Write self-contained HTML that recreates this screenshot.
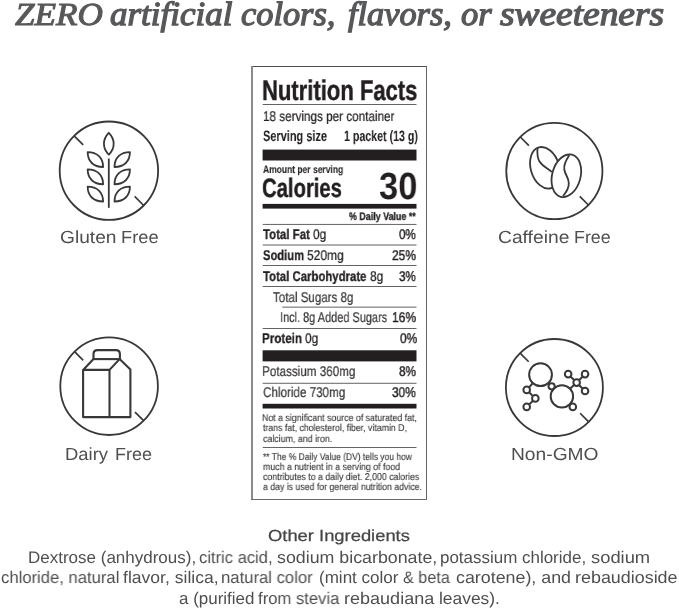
<!DOCTYPE html>
<html><head><meta charset="utf-8"><title>Nutrition</title>
<style>
html,body{margin:0;padding:0;background:#fff;}
body{width:679px;height:610px;position:relative;overflow:hidden;font-family:"Liberation Sans",sans-serif;}
.t{position:absolute;white-space:nowrap;transform-origin:0 0;display:block;will-change:transform;text-rendering:geometricPrecision;}
svg{position:absolute;left:0;top:0;overflow:visible;}
</style></head><body>
<svg width="679" height="610" viewBox="0 0 679 610">
<rect x="251" y="66" width="176" height="1" fill="#505052"/>
<rect x="251" y="66" width="2" height="434" fill="#8b8b8d"/>
<rect x="426" y="66" width="1" height="434" fill="#666668"/>
<rect x="251" y="499" width="176" height="1" fill="#6a6a6c"/>
<g fill="#231f20">
<rect x="262.6" y="149.6" width="153.9" height="10.9"/>
<rect x="262.6" y="203.9" width="153.9" height="4.7"/>
<rect x="262.6" y="350.3" width="153.9" height="11.1"/>
<rect x="262.6" y="403.8" width="153.9" height="4.7"/>
<rect x="262.7" y="104.00" width="153.8" height="0.7"/>
<rect x="262.7" y="223.95" width="153.8" height="0.7"/>
<rect x="262.7" y="244.65" width="153.8" height="0.7"/>
<rect x="262.7" y="265.25" width="153.8" height="0.7"/>
<rect x="262.7" y="286.15" width="153.8" height="0.7"/>
<rect x="282.3" y="306.75" width="134.2" height="0.7"/>
<rect x="262.7" y="328.05" width="153.8" height="0.7"/>
<rect x="262.7" y="382.85" width="153.8" height="0.7"/>
<rect x="262.7" y="447.05" width="153.8" height="0.7"/>
</g>
</svg>
<svg width="679" height="610" viewBox="0 0 679 610"><g stroke="#38383a" stroke-linecap="butt" fill="none">
<circle cx="108.90" cy="170.70" r="49.20" stroke-width="1.8" fill="none"/>
<line x1="74.11" y1="135.91" x2="83.16" y2="144.96" stroke-width="1.7"/>
<line x1="134.64" y1="196.44" x2="143.69" y2="205.49" stroke-width="1.7"/>
<line x1="108.80" y1="158.50" x2="108.80" y2="207.80" stroke-width="1.8"/>
<path d="M108.8,132.8 C115.3,139.3 115.3,148.3 108.8,154.6 C102.3,148.3 102.3,139.3 108.8,132.8Z" stroke-width="1.8" fill="none" stroke-linejoin="round"/>
<path d="M87.65,152.10 C97.23,152.10 103.10,157.76 103.10,167.00 C93.52,167.00 87.65,161.34 87.65,152.10Z" stroke-width="1.8" fill="none" stroke-linejoin="round"/>
<path d="M129.95,152.10 C120.37,152.10 114.50,157.76 114.50,167.00 C124.08,167.00 129.95,161.34 129.95,152.10Z" stroke-width="1.8" fill="none" stroke-linejoin="round"/>
<path d="M87.65,169.35 C97.23,169.35 103.10,175.01 103.10,184.25 C93.52,184.25 87.65,178.59 87.65,169.35Z" stroke-width="1.8" fill="none" stroke-linejoin="round"/>
<path d="M129.95,169.35 C120.37,169.35 114.50,175.01 114.50,184.25 C124.08,184.25 129.95,178.59 129.95,169.35Z" stroke-width="1.8" fill="none" stroke-linejoin="round"/>
<path d="M87.65,186.60 C97.23,186.60 103.10,192.26 103.10,201.50 C93.52,201.50 87.65,195.84 87.65,186.60Z" stroke-width="1.8" fill="none" stroke-linejoin="round"/>
<path d="M129.95,186.60 C120.37,186.60 114.50,192.26 114.50,201.50 C124.08,201.50 129.95,195.84 129.95,186.60Z" stroke-width="1.8" fill="none" stroke-linejoin="round"/>
<circle cx="554.35" cy="171.00" r="48.10" stroke-width="1.8" fill="none"/>
<line x1="520.34" y1="136.99" x2="528.89" y2="145.54" stroke-width="1.7"/>
<line x1="579.81" y1="196.46" x2="588.36" y2="205.01" stroke-width="1.7"/>
<ellipse cx="545.0" cy="167.8" rx="14.2" ry="21.3" transform="rotate(-17 545.0 167.8)" stroke-width="1.8" fill="none"/>
<path d="M537.5,148.0 C537.2,152 536.8,157 539.5,161.5 C542.5,166.5 548,168 551.8,172" stroke-width="1.8" fill="none"/>
<ellipse cx="566.35" cy="175.7" rx="14.2" ry="21.8" transform="rotate(15 566.35 175.7)" stroke-width="1.8" fill="#fff"/>
<path d="M569.3,155.2 C566,160 563.6,165 564.3,169.5 C565,174.5 568.6,177.5 568.8,183 C569,188 566.5,192 563.0,196" stroke-width="1.8" fill="none"/>
<circle cx="109.10" cy="386.20" r="48.80" stroke-width="1.8" fill="none"/>
<line x1="74.59" y1="351.69" x2="83.22" y2="360.32" stroke-width="1.7"/>
<line x1="134.98" y1="412.08" x2="143.61" y2="420.71" stroke-width="1.7"/>
<path d="M93.5,359.1 V354.1 Q93.5,350.1 97.5,350.1 H115.9 Q119.9,350.1 119.9,354.1 V359.1" stroke-width="2.1" fill="none"/>
<path d="M93.5,359.1 H119.6" stroke-width="2.1" fill="none"/>
<path d="M93.5,359.1 L83.1,369.9 H109.5 L119.6,359.1 L130.4,369.6 V417.1 H83.1 V369.9" stroke-width="2.1" fill="none" stroke-linejoin="round"/>
<path d="M109.5,369.9 V417.1" stroke-width="2.1" fill="none"/>
<circle cx="554.40" cy="387.50" r="48.50" stroke-width="1.8" fill="none"/>
<line x1="520.11" y1="353.21" x2="528.66" y2="361.76" stroke-width="1.7"/>
<line x1="580.14" y1="413.24" x2="588.69" y2="421.79" stroke-width="1.7"/>
<circle cx="540.54" cy="374.70" r="11.40" stroke-width="2.0" fill="none"/>
<circle cx="561.90" cy="396.40" r="11.20" stroke-width="2.0" fill="none"/>
<circle cx="551.60" cy="386.30" r="3.10" stroke-width="2.0" fill="#fff"/>
<circle cx="572.80" cy="406.90" r="3.30" stroke-width="2.0" fill="#fff"/>
<circle cx="526.70" cy="389.90" r="3.30" stroke-width="2.0" fill="none"/>
<circle cx="535.35" cy="398.40" r="3.30" stroke-width="2.0" fill="none"/>
<circle cx="526.70" cy="406.90" r="3.30" stroke-width="2.0" fill="none"/>
<circle cx="576.65" cy="382.60" r="3.30" stroke-width="2.0" fill="none"/>
<circle cx="568.15" cy="374.10" r="3.30" stroke-width="2.0" fill="none"/>
<circle cx="585.05" cy="374.10" r="3.30" stroke-width="2.0" fill="none"/>
<circle cx="585.05" cy="391.00" r="3.30" stroke-width="2.0" fill="none"/>
<line x1="532.86" y1="383.13" x2="528.92" y2="387.46" stroke-width="2.0"/>
<line x1="529.05" y1="392.21" x2="533.00" y2="396.09" stroke-width="2.0"/>
<line x1="533.00" y1="400.71" x2="529.05" y2="404.59" stroke-width="2.0"/>
<line x1="574.32" y1="380.27" x2="570.48" y2="376.43" stroke-width="2.0"/>
<line x1="578.97" y1="380.25" x2="582.73" y2="376.45" stroke-width="2.0"/>
<line x1="578.98" y1="384.93" x2="582.72" y2="388.67" stroke-width="2.0"/>
<line x1="574.24" y1="384.85" x2="570.08" y2="388.75" stroke-width="2.0"/>
</g></svg>

<span class="t" style="left:14.77px;top:-2.00px;font:italic 400 32.2px/1 'Liberation Serif', serif;color:#57585a;-webkit-text-stroke:1.0px #57585a;transform:scale(1.0932,1)">ZERO</span>
<span class="t" style="left:110.34px;top:-2.00px;font:italic 400 33.6px/1 'Liberation Serif', serif;color:#57585a;-webkit-text-stroke:1.3px #57585a;transform:scale(1.0414,1)">artificial</span>
<span class="t" style="left:241.49px;top:-2.00px;font:italic 400 33.6px/1 'Liberation Serif', serif;color:#57585a;-webkit-text-stroke:1.3px #57585a;transform:scale(1.0227,1)">colors,</span>
<span class="t" style="left:347.96px;top:-2.00px;font:italic 400 33.6px/1 'Liberation Serif', serif;color:#57585a;-webkit-text-stroke:1.3px #57585a;transform:scale(1.0219,1)">flavors,</span>
<span class="t" style="left:461.34px;top:-2.00px;font:italic 400 33.6px/1 'Liberation Serif', serif;color:#57585a;-webkit-text-stroke:1.3px #57585a;transform:scale(1.0295,1)">or</span>
<span class="t" style="left:500.08px;top:-2.00px;font:italic 400 33.6px/1 'Liberation Serif', serif;color:#57585a;-webkit-text-stroke:1.3px #57585a;transform:scale(1.1131,1)">sweeteners</span>
<span class="t" style="left:262.34px;top:77.00px;font:normal 700 28.4px/1 'Liberation Sans', sans-serif;color:#231f20;-webkit-text-stroke:0.45px #231f20;transform:scale(0.7757,1)">Nutrition Facts</span>
<span class="t" style="left:262.57px;top:109.00px;font:normal 400 14.1px/1 'Liberation Sans', sans-serif;color:#231f20;-webkit-text-stroke:0.22px #231f20;transform:scale(0.8305,1)">18 servings per container</span>
<span class="t" style="left:262.73px;top:129.00px;font:normal 700 15.0px/1 'Liberation Sans', sans-serif;color:#231f20;-webkit-text-stroke:0.05px #231f20;transform:scale(0.7306,1)">Serving size</span>
<span class="t" style="left:343.79px;top:129.00px;font:normal 700 15.0px/1 'Liberation Sans', sans-serif;color:#231f20;-webkit-text-stroke:0.05px #231f20;transform:scale(0.7093,1)">1 packet (13 g)</span>
<span class="t" style="left:262.90px;top:165.00px;font:normal 700 10.7px/1 'Liberation Sans', sans-serif;color:#231f20;-webkit-text-stroke:0.08px #231f20;transform:scale(0.7940,1)">Amount per serving</span>
<span class="t" style="left:262.34px;top:175.00px;font:normal 700 26.6px/1 'Liberation Sans', sans-serif;color:#231f20;-webkit-text-stroke:0.4px #231f20;transform:scale(0.7612,1)">Calories</span>
<span class="t" style="left:379.39px;top:168.00px;font:normal 700 38px/1 'Liberation Sans', sans-serif;color:#231f20;transform:scale(0.9057,1)">30</span>
<span class="t" style="left:349.10px;top:212.00px;font:normal 700 11.0px/1 'Liberation Sans', sans-serif;color:#231f20;-webkit-text-stroke:0.3px #231f20;transform:scale(0.8085,1)">% Daily Value **</span>
<span class="t" style="left:263.10px;top:227.00px;font:normal 700 14.1px/1 'Liberation Sans', sans-serif;color:#231f20;-webkit-text-stroke:0.3px #231f20;transform:scale(0.8121,1)">Total Fat</span>
<span class="t" style="left:313.18px;top:227.00px;font:normal 400 14.1px/1 'Liberation Sans', sans-serif;color:#231f20;-webkit-text-stroke:0.22px #231f20;transform:scale(0.8500,1)">0g</span>
<span class="t" style="left:399.39px;top:227.00px;font:normal 400 14.1px/1 'Liberation Sans', sans-serif;color:#231f20;-webkit-text-stroke:0.42px #231f20;transform:scale(0.8253,1)">0%</span>
<span class="t" style="left:262.90px;top:248.00px;font:normal 700 14.1px/1 'Liberation Sans', sans-serif;color:#231f20;-webkit-text-stroke:0.3px #231f20;transform:scale(0.7941,1)">Sodium</span>
<span class="t" style="left:306.57px;top:248.00px;font:normal 400 14.1px/1 'Liberation Sans', sans-serif;color:#231f20;-webkit-text-stroke:0.22px #231f20;transform:scale(0.8527,1)">520mg</span>
<span class="t" style="left:392.18px;top:248.00px;font:normal 400 14.1px/1 'Liberation Sans', sans-serif;color:#231f20;-webkit-text-stroke:0.42px #231f20;transform:scale(0.8473,1)">25%</span>
<span class="t" style="left:263.10px;top:269.00px;font:normal 700 14.1px/1 'Liberation Sans', sans-serif;color:#231f20;-webkit-text-stroke:0.3px #231f20;transform:scale(0.8070,1)">Total Carbohydrate</span>
<span class="t" style="left:370.07px;top:269.00px;font:normal 400 14.1px/1 'Liberation Sans', sans-serif;color:#231f20;-webkit-text-stroke:0.22px #231f20;transform:scale(0.8500,1)">8g</span>
<span class="t" style="left:399.39px;top:269.00px;font:normal 400 14.1px/1 'Liberation Sans', sans-serif;color:#231f20;-webkit-text-stroke:0.42px #231f20;transform:scale(0.8253,1)">3%</span>
<span class="t" style="left:273.09px;top:290.00px;font:normal 400 14.1px/1 'Liberation Sans', sans-serif;color:#3a3738;-webkit-text-stroke:0.22px #3a3738;transform:scale(0.8216,1)">Total Sugars 8g</span>
<span class="t" style="left:279.73px;top:310.00px;font:normal 400 14.1px/1 'Liberation Sans', sans-serif;color:#3a3738;-webkit-text-stroke:0.22px #3a3738;transform:scale(0.7772,1)">Incl. 8g Added Sugars</span>
<span class="t" style="left:391.96px;top:310.00px;font:normal 400 14.1px/1 'Liberation Sans', sans-serif;color:#231f20;-webkit-text-stroke:0.42px #231f20;transform:scale(0.8550,1)">16%</span>
<span class="t" style="left:262.48px;top:331.00px;font:normal 700 14.1px/1 'Liberation Sans', sans-serif;color:#231f20;-webkit-text-stroke:0.3px #231f20;transform:scale(0.8234,1)">Protein</span>
<span class="t" style="left:305.27px;top:331.00px;font:normal 400 14.1px/1 'Liberation Sans', sans-serif;color:#231f20;-webkit-text-stroke:0.22px #231f20;transform:scale(0.8500,1)">0g</span>
<span class="t" style="left:399.99px;top:331.00px;font:normal 400 14.1px/1 'Liberation Sans', sans-serif;color:#231f20;-webkit-text-stroke:0.42px #231f20;transform:scale(0.8506,1)">0%</span>
<span class="t" style="left:262.27px;top:364.00px;font:normal 400 14.1px/1 'Liberation Sans', sans-serif;color:#3a3738;-webkit-text-stroke:0.22px #3a3738;transform:scale(0.8279,1)">Potassium 360mg</span>
<span class="t" style="left:399.18px;top:364.00px;font:normal 400 14.1px/1 'Liberation Sans', sans-serif;color:#231f20;-webkit-text-stroke:0.42px #231f20;transform:scale(0.8359,1)">8%</span>
<span class="t" style="left:262.69px;top:385.00px;font:normal 400 14.1px/1 'Liberation Sans', sans-serif;color:#3a3738;-webkit-text-stroke:0.22px #3a3738;transform:scale(0.8265,1)">Chloride 730mg</span>
<span class="t" style="left:392.39px;top:385.00px;font:normal 400 14.1px/1 'Liberation Sans', sans-serif;color:#231f20;-webkit-text-stroke:0.42px #231f20;transform:scale(0.8396,1)">30%</span>
<span class="t" style="left:262.43px;top:414.00px;font:normal 400 9.9px/1 'Liberation Sans', sans-serif;color:#3a3738;-webkit-text-stroke:0.12px #3a3738;transform:scale(0.8904,1)">Not a significant source of saturated fat,</span>
<span class="t" style="left:263.10px;top:424.00px;font:normal 400 9.9px/1 'Liberation Sans', sans-serif;color:#3a3738;-webkit-text-stroke:0.12px #3a3738;transform:scale(0.8859,1)">trans fat, cholesterol, fiber, vitamin D,</span>
<span class="t" style="left:262.88px;top:435.00px;font:normal 400 9.9px/1 'Liberation Sans', sans-serif;color:#3a3738;-webkit-text-stroke:0.12px #3a3738;transform:scale(0.8944,1)">calcium, and iron.</span>
<span class="t" style="left:263.10px;top:453.00px;font:normal 400 9.9px/1 'Liberation Sans', sans-serif;color:#3a3738;-webkit-text-stroke:0.12px #3a3738;transform:scale(0.8576,1)">** The % Daily Value (DV) tells you how</span>
<span class="t" style="left:262.66px;top:463.00px;font:normal 400 9.9px/1 'Liberation Sans', sans-serif;color:#3a3738;-webkit-text-stroke:0.12px #3a3738;transform:scale(0.8887,1)">much a nutrient in a serving of food</span>
<span class="t" style="left:262.88px;top:473.00px;font:normal 400 9.9px/1 'Liberation Sans', sans-serif;color:#3a3738;-webkit-text-stroke:0.12px #3a3738;transform:scale(0.8871,1)">contributes to a daily diet. 2,000 calories</span>
<span class="t" style="left:262.88px;top:483.00px;font:normal 400 9.9px/1 'Liberation Sans', sans-serif;color:#3a3738;-webkit-text-stroke:0.12px #3a3738;transform:scale(0.8827,1)">a day is used for general nutrition advice.</span>
<span class="t" style="left:60.41px;top:229.00px;font:normal 400 17.5px/1 'Liberation Sans', sans-serif;color:#4f4f51;transform:scale(1.0949,1)">Gluten</span>
<span class="t" style="left:120.64px;top:229.00px;font:normal 400 17.5px/1 'Liberation Sans', sans-serif;color:#4f4f51;transform:scale(1.0430,1)">Free</span>
<span class="t" style="left:498.10px;top:229.00px;font:normal 400 17.5px/1 'Liberation Sans', sans-serif;color:#4f4f51;transform:scale(1.1000,1)">Caffeine</span>
<span class="t" style="left:574.27px;top:229.00px;font:normal 400 17.5px/1 'Liberation Sans', sans-serif;color:#4f4f51;transform:scale(1.0193,1)">Free</span>
<span class="t" style="left:65.12px;top:446.00px;font:normal 400 17.5px/1 'Liberation Sans', sans-serif;color:#4f4f51;transform:scale(1.0548,1)">Dairy</span>
<span class="t" style="left:114.66px;top:446.00px;font:normal 400 17.5px/1 'Liberation Sans', sans-serif;color:#4f4f51;transform:scale(1.0281,1)">Free</span>
<span class="t" style="left:510.50px;top:446.00px;font:normal 400 17.5px/1 'Liberation Sans', sans-serif;color:#4f4f51;transform:scale(1.0974,1)">Non-GMO</span>
<span class="t" style="left:268.14px;top:529.00px;font:normal 400 16.0px/1 'Liberation Sans', sans-serif;color:#454547;-webkit-text-stroke:0.25px #454547;transform:scale(1.1478,1)">Other Ingredients</span>
<span class="t" style="left:28.48px;top:550.00px;font:normal 400 16.8px/1 'Liberation Sans', sans-serif;color:#4f4f51;transform:scale(1.0129,1)">Dextrose (anhydrous),</span>
<span class="t" style="left:199.36px;top:550.00px;font:normal 400 16.8px/1 'Liberation Sans', sans-serif;color:#4f4f51;transform:scale(0.9869,1)">citric acid,</span>
<span class="t" style="left:277.17px;top:550.00px;font:normal 400 16.8px/1 'Liberation Sans', sans-serif;color:#4f4f51;transform:scale(1.0604,1)">sodium bicarbonate,</span>
<span class="t" style="left:440.39px;top:550.00px;font:normal 400 16.8px/1 'Liberation Sans', sans-serif;color:#4f4f51;transform:scale(1.0106,1)">potassium chloride,</span>
<span class="t" style="left:591.45px;top:550.00px;font:normal 400 16.8px/1 'Liberation Sans', sans-serif;color:#4f4f51;transform:scale(1.0933,1)">sodium</span>
<span class="t" style="left:0.51px;top:570.00px;font:normal 400 16.8px/1 'Liberation Sans', sans-serif;color:#4f4f51;transform:scale(0.9911,1)">chloride, natural</span>
<span class="t" style="left:122.94px;top:570.00px;font:normal 400 16.8px/1 'Liberation Sans', sans-serif;color:#4f4f51;transform:scale(1.0462,1)">flavor, silica,</span>
<span class="t" style="left:221.36px;top:570.00px;font:normal 400 16.8px/1 'Liberation Sans', sans-serif;color:#4f4f51;transform:scale(0.9928,1)">natural color</span>
<span class="t" style="left:318.99px;top:570.00px;font:normal 400 16.8px/1 'Liberation Sans', sans-serif;color:#4f4f51;transform:scale(1.0143,1)">(mint color</span>
<span class="t" style="left:403.42px;top:570.00px;font:normal 400 16.8px/1 'Liberation Sans', sans-serif;color:#4f4f51;transform:scale(0.9646,1)">&amp; beta</span>
<span class="t" style="left:455.70px;top:570.00px;font:normal 400 16.8px/1 'Liberation Sans', sans-serif;color:#4f4f51;transform:scale(1.0626,1)">carotene), and</span>
<span class="t" style="left:574.77px;top:570.00px;font:normal 400 16.8px/1 'Liberation Sans', sans-serif;color:#4f4f51;transform:scale(1.0670,1)">rebaudioside</span>
<span class="t" style="left:178.74px;top:591.00px;font:normal 400 16.8px/1 'Liberation Sans', sans-serif;color:#4f4f51;transform:scale(1.0117,1)">a (purified</span>
<span class="t" style="left:258.15px;top:591.00px;font:normal 400 16.8px/1 'Liberation Sans', sans-serif;color:#4f4f51;transform:scale(0.9920,1)">from stevia</span>
<span class="t" style="left:343.66px;top:591.00px;font:normal 400 16.8px/1 'Liberation Sans', sans-serif;color:#4f4f51;transform:scale(1.0743,1)">rebaudiana</span>
<span class="t" style="left:438.91px;top:591.00px;font:normal 400 16.8px/1 'Liberation Sans', sans-serif;color:#4f4f51;transform:scale(1.0357,1)">leaves).</span>
</body></html>
